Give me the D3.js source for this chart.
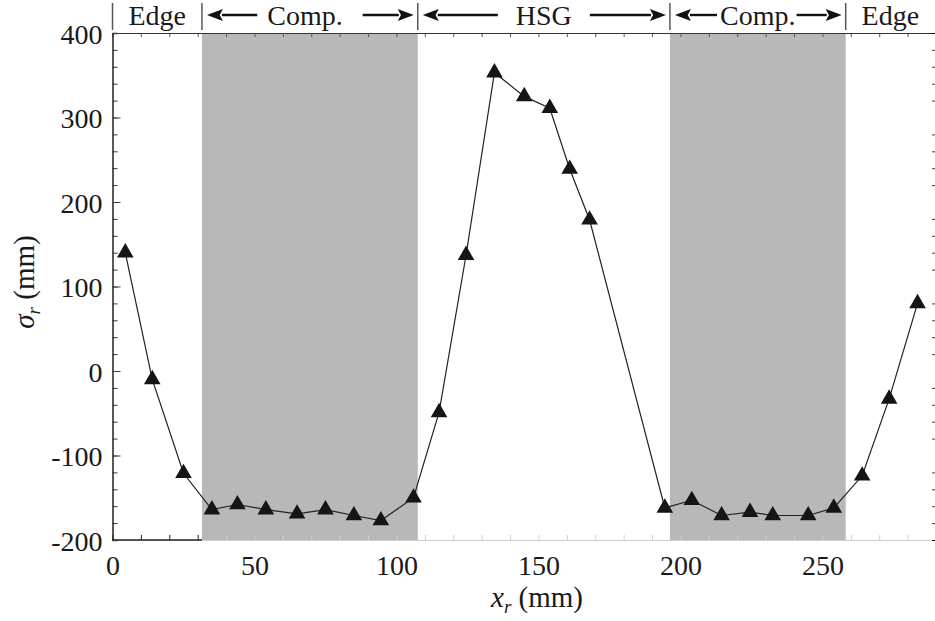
<!DOCTYPE html>
<html>
<head>
<meta charset="utf-8">
<script src="https://cdn.jsdelivr.net/npm/d3@7"></script>
<style>
  body { margin: 0; background: #fff; }
  text { font-family: "Liberation Serif", "Times New Roman", serif; fill: #1a1a1a; }
</style>
</head>
<body>
<div id="vis"></div>
<script>
// data
var positions = [4.5, 14, 25, 35, 44, 54, 65, 75, 85, 94.5, 106, 115, 124.5, 134.5,
                 145, 154, 161, 168, 194.5, 204, 214.5, 224.5, 232.5, 245, 254, 264, 273.5, 283.5];
var stress = [140, -10, -121, -164, -158, -164, -169, -164, -171, -177, -150, -49, 137, 353,
              325, 311, 239, 179, -162, -153, -171, -167, -171, -171, -162, -124, -33, 80];
var xTicks = [0, 50, 100, 150, 200, 250];
var yTicks = [-200, -100, 0, 100, 200, 300, 400];
var compBands = [[31.5, 107.5], [196.3, 258.2]];
var sectionBounds = [0, 31.5, 107.5, 196.3, 258.2, 290];
var sectionNames = ["Edge", "Comp.", "HSG", "Comp.", "Edge"];
var sectionArrows = [false, true, true, true, false];

var width = 935;
var height = 621;

var svg = d3.select("#vis")
            .append("svg")
            .attr("width", width)
            .attr("height", height);

var x = d3.scaleLinear().domain([0, 290]).range([112.5, 936]);
var y = d3.scaleLinear().domain([-200, 400]).range([540, 33]);

// plain hyphen for negatives, like the original
var fmt = function(d) { return String(d); };

// shaded compression bands
svg.append("g").selectAll("rect")
    .data(compBands)
    .enter().append("rect")
    .attr("x", function(d) { return x(d[0]); })
    .attr("width", function(d) { return x(d[1]) - x(d[0]); })
    .attr("y", y(400))
    .attr("height", y(-200) - y(400))
    .attr("fill", "#b8b8b8");

// bottom axis (labels + minor ticks)
var bottomAxis = svg.append("g")
    .attr("transform", "translate(0," + y(-200) + ")")
    .call(d3.axisBottom(x).tickValues(d3.range(0, 291, 10)).tickSize(-5).tickFormat(""));
bottomAxis.select(".domain").attr("stroke", "#cfcfcf");
bottomAxis.selectAll(".tick line").attr("stroke", function(d) { return d < compBands[0][0] ? "#222" : "#d0d0d0"; });
svg.append("line")
    .attr("x1", x(0)).attr("x2", x(compBands[0][0]))
    .attr("y1", y(-200)).attr("y2", y(-200))
    .attr("stroke", "#222").attr("stroke-width", 1.5);

var bottomLabels = svg.append("g")
    .attr("transform", "translate(0," + y(-200) + ")")
    .call(d3.axisBottom(x).tickValues(xTicks).tickSize(0).tickPadding(15).tickFormat(fmt));
bottomLabels.select(".domain").remove();
bottomLabels.selectAll("text").style("font-size", "28px").attr("fill", "#1a1a1a");

// top axis
var topAxis = svg.append("g")
    .attr("transform", "translate(0," + y(400) + ")")
    .call(d3.axisTop(x).tickValues(d3.range(10, 290, 10)).tickSize(-4).tickFormat(""));
topAxis.select(".domain").attr("stroke", "#333");
topAxis.selectAll(".tick line").attr("stroke", "#555");

// left axis
var leftMinor = svg.append("g")
    .attr("transform", "translate(" + x(0) + ",0)")
    .call(d3.axisLeft(y).tickValues(d3.range(-200, 401, 20)).tickSize(-5).tickFormat(""));
leftMinor.select(".domain").attr("stroke", "#222").attr("stroke-width", 1.5);
leftMinor.selectAll(".tick line").attr("stroke", "#333");

var leftAxis = svg.append("g")
    .attr("transform", "translate(" + x(0) + ",0)")
    .call(d3.axisLeft(y).tickValues(yTicks).tickSize(-8).tickPadding(10).tickFormat(fmt));
leftAxis.select(".domain").remove();
leftAxis.selectAll(".tick line").attr("stroke", "#444");
leftAxis.selectAll("text").style("font-size", "28px").attr("fill", "#1a1a1a").attr("dy", "0.36em");

// right axis (line falls just past the edge)
var rightAxis = svg.append("g")
    .attr("transform", "translate(" + x(290) + ",0)")
    .call(d3.axisRight(y).tickValues(d3.range(-180, 400, 20).filter(function(v) { return v % 100 !== 0; })).tickSize(-4).tickFormat(""));
rightAxis.selectAll(".tick line").attr("stroke", "#444");

// data line + triangle markers
var line = d3.line()
    .x(function(d, i) { return x(positions[i]); })
    .y(function(d) { return y(d); });

svg.append("path")
    .datum(stress)
    .attr("d", line)
    .attr("fill", "none")
    .attr("stroke", "#222")
    .attr("stroke-width", 1.2);

svg.append("g").selectAll("path")
    .data(stress)
    .enter().append("path")
    .attr("d", d3.symbol().type(d3.symbolTriangle).size(120))
    .attr("transform", function(d, i) { return "translate(" + x(positions[i]) + "," + y(d) + ")"; })
    .attr("fill", "#151515");

// section labels along the top
var header = svg.append("g");
header.selectAll("line.sep")
    .data(sectionBounds.slice(0, 5))
    .enter().append("line")
    .attr("class", "sep")
    .attr("x1", function(d) { return x(d); })
    .attr("x2", function(d) { return x(d); })
    .attr("y1", 3).attr("y2", 30)
    .attr("stroke", "#555").attr("stroke-width", 1.5);

function arrow(from, to, ay) {
    // shaft plus filled head pointing at "to"
    var dir = to > from ? 1 : -1;
    var headLen = 16, headHalf = 6;
    header.append("line")
        .attr("x1", from).attr("x2", to - dir * headLen + dir)
        .attr("y1", ay).attr("y2", ay)
        .attr("stroke", "#111").attr("stroke-width", 2.4);
    header.append("path")
        .attr("d", "M" + to + "," + ay +
                   "L" + (to - dir * headLen) + "," + (ay - headHalf) +
                   "L" + (to - dir * headLen * 0.8) + "," + ay +
                   "L" + (to - dir * headLen) + "," + (ay + headHalf) + "Z")
        .attr("fill", "#111");
}

var gaps = [[0, 0], [10, 20], [18, 18], [3, 1], [0, 0]];
sectionNames.forEach(function(name, i) {
    var x0 = x(sectionBounds[i]), x1 = x(sectionBounds[i + 1]);
    var mid = (x0 + Math.min(x1, width)) / 2;
    if (i === 1) mid = x0 + 103;
    var t = header.append("text")
        .attr("x", mid).attr("y", 25)
        .attr("text-anchor", "middle")
        .style("font-size", "28px")
        .text(name);
    if (sectionArrows[i]) {
        var w = t.node().getComputedTextLength();
        arrow(mid - w / 2 - gaps[i][0], x0 + 5, 15);
        arrow(mid + w / 2 + gaps[i][1], x1 - 4, 15);
    }
});

// axis titles
var xt = svg.append("text")
    .attr("x", 537).attr("y", 607)
    .attr("text-anchor", "middle")
    .style("font-size", "29px");
xt.append("tspan").style("font-style", "italic").text("x");
xt.append("tspan").style("font-style", "italic").style("font-size", "19px").attr("dy", 6).text("r");
xt.append("tspan").attr("dy", -6).text(" (mm)");

var yt = svg.append("text")
    .attr("transform", "translate(34,282) rotate(-90)")
    .attr("text-anchor", "middle")
    .style("font-size", "29px");
yt.append("tspan").style("font-style", "italic").text("σ");
yt.append("tspan").style("font-style", "italic").style("font-size", "19px").attr("dy", 6).text("r");
yt.append("tspan").attr("dy", -6).text(" (mm)");
</script>
</body>
</html>
